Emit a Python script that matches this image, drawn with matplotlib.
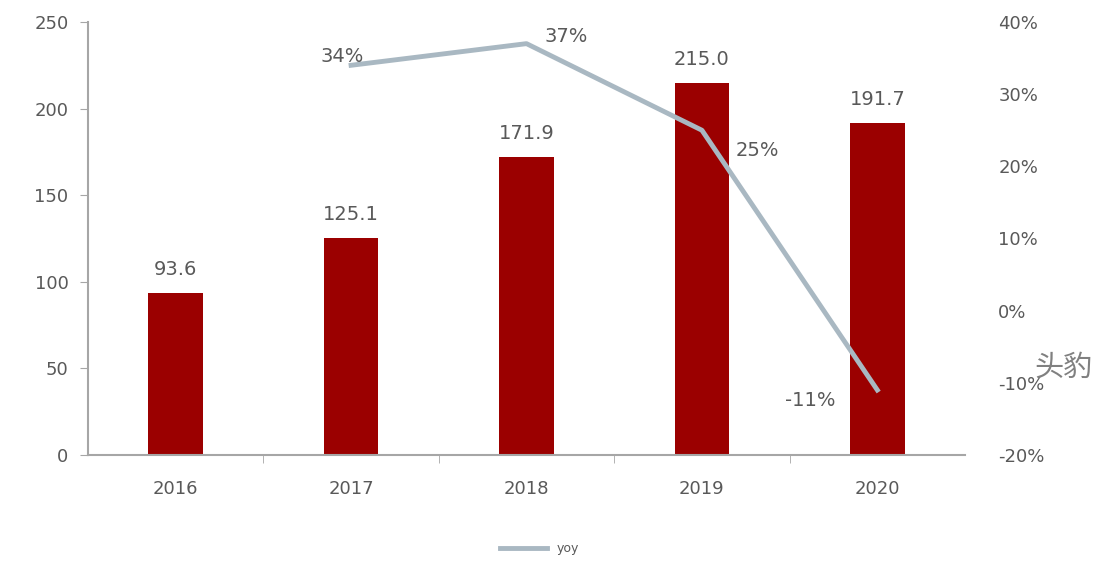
import matplotlib.pyplot as plt
import numpy as np

plt.rcParams['font.family'] = ['DejaVu Sans', 'Noto Sans CJK SC']

years = ['2016', '2017', '2018', '2019', '2020']
sales = [93.6, 125.1, 171.9, 215.0, 191.7]
yoy_years = ['2017', '2018', '2019', '2020']
yoy = [34, 37, 25, -11]
yoy_labels = ['34%', '37%', '25%', '-11%']

bar_color = '#9B0000'
line_color = '#A9B8C2'
text_color = '#595959'
axis_color = '#A6A6A6'

fig = plt.figure(figsize=(11.01, 5.61), dpi=100)
ax = fig.add_axes([0.0799, 0.189, 0.7966, 0.7718])

x = np.arange(len(years))
ax.bar(x, sales, width=0.31, color=bar_color, zorder=2)
for xi, v in zip(x, sales):
    ax.text(xi, v + 8, f'{v:.1f}', ha='center', va='bottom', fontsize=14, color=text_color)

ax.set_xlim(-0.5, len(years) - 0.5)
ax.set_ylim(0, 250)
ax.set_yticks(range(0, 251, 50))
ax.set_xticks(x)
ax.set_xticklabels(years)
ax.set_xticks(np.arange(0.5, len(years) - 1, 1), minor=True)
ax.tick_params(axis='x', which='major', length=0, pad=18, labelsize=13, labelcolor=text_color)
ax.tick_params(axis='x', which='minor', length=6, color=axis_color, direction='out')
ax.tick_params(axis='y', length=6, color=axis_color, labelsize=13, labelcolor=text_color, pad=8)
for s in ['top', 'right']:
    ax.spines[s].set_visible(False)
ax.spines['left'].set_color(axis_color)
ax.spines['bottom'].set_color(axis_color)
ax.spines['left'].set_linewidth(1.5)
ax.spines['bottom'].set_linewidth(1.5)

ax2 = ax.twinx()
lx = [years.index(y) for y in yoy_years]
ln, = ax2.plot(lx, yoy, color=line_color, linewidth=3.5, label='yoy', zorder=3)
ax2.set_ylim(-20, 40)
ax2.set_yticks(range(-20, 41, 10))
ax2.set_yticklabels([f'{t}%' for t in range(-20, 41, 10)])
ax2.tick_params(axis='y', length=0, labelsize=13, labelcolor=text_color, pad=24)
for s in ax2.spines.values():
    s.set_visible(False)

offsets = [(-0.05, 1.2, 'center'), (0.1, 1.0, 'left'), (0.19, -2.8, 'left'), (-0.24, -1.5, 'right')]
for xi, v, lab, (dx, dy, ha) in zip(lx, yoy, yoy_labels, offsets):
    ax2.text(xi + dx, v + dy, lab, ha=ha, va='center', fontsize=14, color=text_color)

fig.legend(handles=[ln], loc='center', bbox_to_anchor=(0.49, 0.022), frameon=False,
           fontsize=9, labelcolor=text_color, handlelength=3.8)

fig.text(0.939, 0.345, '头豹', fontsize=21, color='#808080', va='center',
         family=['Noto Sans CJK SC'])

fig.savefig('out.png', dpi=100)
